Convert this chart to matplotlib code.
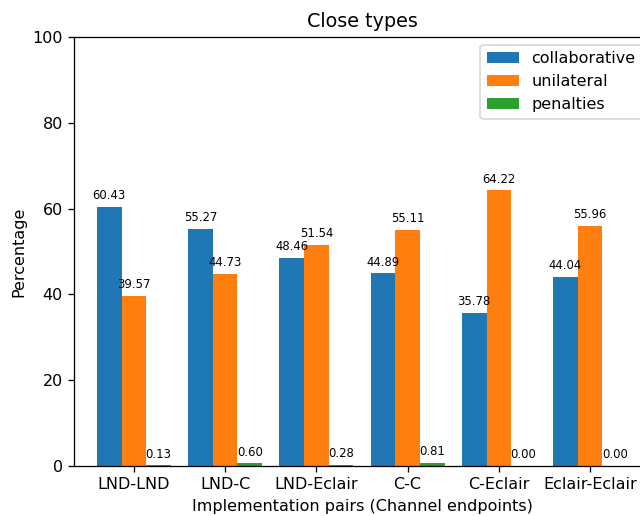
import numpy as np
import matplotlib.pyplot as plt

pairs = ['LND-LND', 'LND-C', 'LND-Eclair', 'C-C', 'C-Eclair', 'Eclair-Eclair']
collaborative = [60.43, 55.27, 48.46, 44.89, 35.78, 44.04]
unilateral = [39.57, 44.73, 51.54, 55.11, 64.22, 55.96]
penalties = [0.13, 0.60, 0.28, 0.81, 0.00, 0.00]

DPI = 115
fig = plt.figure(figsize=(640 / DPI, 516 / DPI), dpi=DPI)
# right spine sits just past the edge of the canvas
ax = fig.add_axes([74 / 640, 50 / 516, 576 / 640, 429 / 516])

x = np.arange(len(pairs))
w = 0.27
b1 = ax.bar(x - w, collaborative, w, label='collaborative')
b2 = ax.bar(x, unilateral, w, label='unilateral')
b3 = ax.bar(x + w, penalties, w, label='penalties')
for b in (b1, b2, b3):
    ax.bar_label(b, fmt='%.2f', fontsize=7.3, padding=3)

ax.set_xlim(-0.657, len(pairs) - 1 + 0.657)
ax.set_ylim(0, 100)
ax.set_xticks(x)
ax.set_xticklabels(pairs)
ax.set_title('Close types')
ax.set_ylabel('Percentage')
ax.set_xlabel('Implementation pairs (Channel endpoints)')
ax.legend(loc='upper right')

fig.savefig('out.png', dpi=DPI)
